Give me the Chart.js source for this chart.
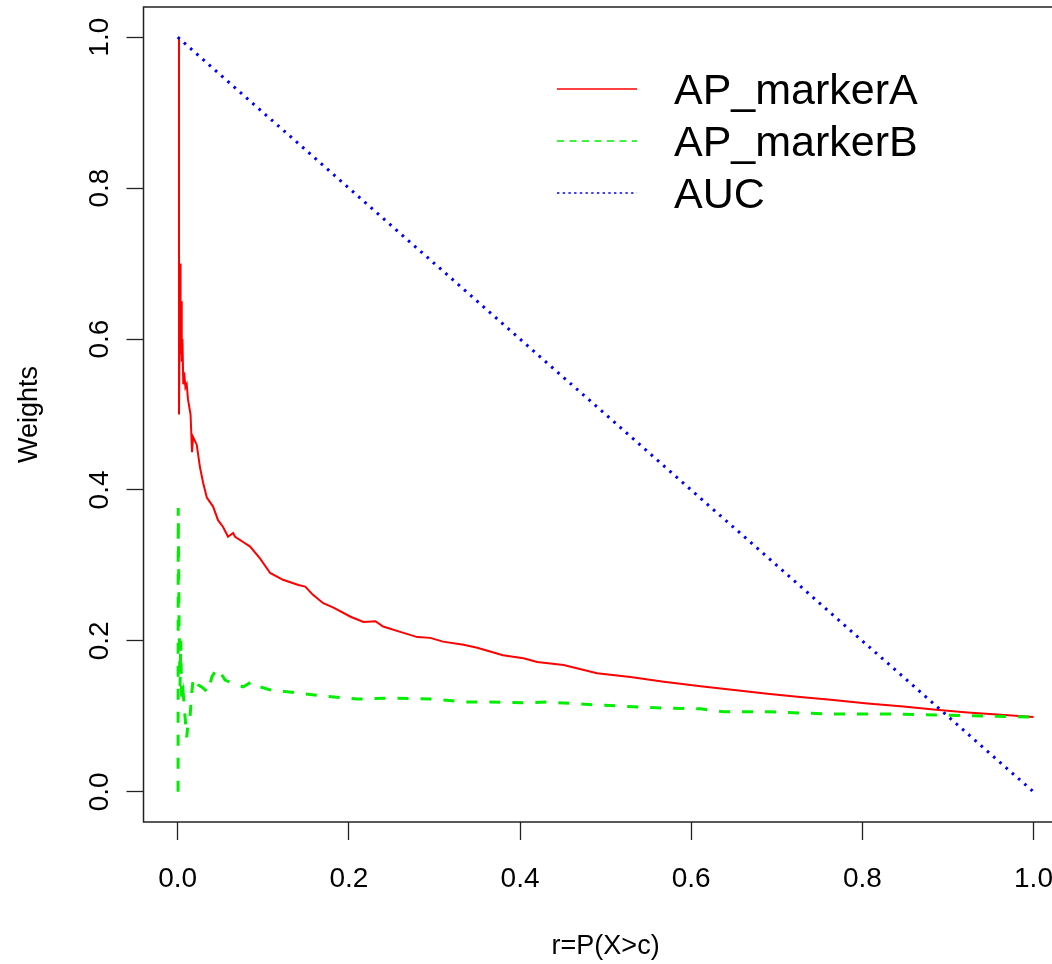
<!DOCTYPE html>
<html lang="en">
<head>
    <meta charset="UTF-8">
    <title>Weights</title>
    <script src="https://cdn.jsdelivr.net/npm/chart.js"></script>
    <style>
        html, body { margin: 0; padding: 0; overflow: hidden; background: #fff; }
        canvas { display: block; }
    </style>
</head>
<body>

<canvas id="mychart" width="1075" height="964"></canvas>

<script>
    const seriesNames = ['AP_markerA', 'AP_markerB', 'AUC'];

    const xTickValues = [0, 0.2, 0.4, 0.6, 0.8, 1.0];
    const xTickLabels = ['0.0', '0.2', '0.4', '0.6', '0.8', '1.0'];
    const yTickValues = [0, 0.2, 0.4, 0.6, 0.8, 1.0];
    const yTickLabels = ['0.0', '0.2', '0.4', '0.6', '0.8', '1.0'];

    // AP_markerA (red, solid)
    const markerAx = [0.0015, 0.0015, 0.0027, 0.0033, 0.0040, 0.0047, 0.0055, 0.0065, 0.0075, 0.0090,
        0.0105, 0.0120, 0.0150, 0.0167, 0.0180, 0.0222, 0.026, 0.0296, 0.034, 0.0413,
        0.0471, 0.053, 0.0588, 0.0647, 0.067, 0.0764, 0.0846, 0.0963, 0.108, 0.123,
        0.141, 0.149, 0.158, 0.170, 0.182, 0.202, 0.217, 0.231, 0.240, 0.260,
        0.280, 0.295, 0.310, 0.334, 0.350, 0.365, 0.380, 0.404, 0.420, 0.451,
        0.490, 0.529, 0.568, 0.611, 0.658, 0.689, 0.724, 0.763, 0.806, 0.848,
        0.883, 0.923, 0.962, 1.0];
    const markerAy = [1.0, 0.50, 0.70, 0.58, 0.65, 0.57, 0.60, 0.54, 0.556, 0.536,
        0.54, 0.52, 0.50, 0.45, 0.47, 0.46, 0.43, 0.41, 0.39, 0.378,
        0.36, 0.351, 0.338, 0.343, 0.338, 0.331, 0.325, 0.309, 0.29, 0.281,
        0.274, 0.272, 0.261, 0.250, 0.244, 0.232, 0.225, 0.226, 0.219, 0.212,
        0.205, 0.204, 0.199, 0.195, 0.191, 0.186, 0.181, 0.177, 0.172, 0.168,
        0.157, 0.152, 0.146, 0.140, 0.134, 0.130, 0.126, 0.122, 0.117, 0.113,
        0.109, 0.105, 0.102, 0.099];

    // AP_markerB (green, dashed)
    const markerBx = [0.0004, 0.0006, 0.0015, 0.0027, 0.0035, 0.0047, 0.0065, 0.0085, 0.0105, 0.012,
        0.0144, 0.0164, 0.0179, 0.020, 0.0237, 0.028, 0.032, 0.0354, 0.0398, 0.0456,
        0.0495, 0.0553, 0.0647, 0.0764, 0.0869, 0.0963, 0.111, 0.125, 0.140, 0.170,
        0.210, 0.248, 0.299, 0.334, 0.365, 0.404, 0.432, 0.490, 0.568, 0.611,
        0.638, 0.689, 0.766, 0.845, 0.923, 1.0];
    const markerBy = [0.0, 0.376, 0.23, 0.14, 0.20, 0.118, 0.13, 0.10, 0.072, 0.091,
        0.10, 0.131, 0.148, 0.151, 0.142, 0.139, 0.135, 0.132, 0.152, 0.163,
        0.159, 0.148, 0.144, 0.139, 0.146, 0.139, 0.134, 0.133, 0.131, 0.127,
        0.123, 0.124, 0.123, 0.119, 0.119, 0.118, 0.119, 0.115, 0.111, 0.110,
        0.106, 0.106, 0.103, 0.103, 0.101, 0.099];

    // AUC (blue, dotted)
    const aucX = [0, 1];
    const aucY = [1, 0];

    const FONT = '"Liberation Sans", Arial, Helvetica, sans-serif';

    function toPoints(xs, ys) {
        return xs.map((x, i) => ({x: x, y: ys[i]}));
    }

    const lineStyles = [
        {color: '#ff0000', width: 2, dash: [], legendWidth: 1.4, legendDash: []},
        {color: '#00ee00', width: 3, dash: [11, 12], legendWidth: 1.4, legendDash: [7, 5.5]},
        {color: '#0000ff', width: 3, dash: [2.6, 5.7], legendWidth: 1.5, legendDash: [2.4, 3.3]}
    ];

    // box, rotated y labels, legend
    const overlay = {
        id: 'overlay',
        afterDraw(chart) {
            const ctx = chart.ctx;
            const a = chart.chartArea;
            const yScale = chart.scales.y;
            ctx.save();
            ctx.strokeStyle = '#222';
            ctx.lineWidth = 1.5;
            ctx.strokeRect(a.left, a.top, a.right - a.left, a.bottom - a.top);

            ctx.fillStyle = '#000';
            ctx.font = '28px ' + FONT;
            ctx.textAlign = 'center';
            ctx.textBaseline = 'alphabetic';
            yTickValues.forEach((v, i) => {
                ctx.save();
                ctx.translate(a.left - 36, yScale.getPixelForValue(v));
                ctx.rotate(-Math.PI / 2);
                ctx.fillText(yTickLabels[i], 0, 0);
                ctx.restore();
            });

            ctx.font = '43px ' + FONT;
            ctx.textAlign = 'left';
            seriesNames.forEach((name, i) => {
                const st = lineStyles[i];
                const ly = 89 + i * 52;
                ctx.beginPath();
                ctx.strokeStyle = st.color;
                ctx.lineWidth = st.legendWidth;
                ctx.setLineDash(st.legendDash);
                ctx.moveTo(557, ly);
                ctx.lineTo(637, ly);
                ctx.stroke();
                ctx.setLineDash([]);
                ctx.fillStyle = '#000';
                ctx.fillText(name, 674, ly + 15);
            });
            ctx.restore();
        }
    };

    const series = [
        toPoints(markerAx, markerAy),
        toPoints(markerBx, markerBy),
        toPoints(aucX, aucY)
    ];

    const setting = {
        type: 'scatter',
        data: {
            datasets: seriesNames.map((name, i) => ({
                label: name,
                data: series[i],
                showLine: true,
                borderColor: lineStyles[i].color,
                borderWidth: lineStyles[i].width,
                borderDash: lineStyles[i].dash,
                borderCapStyle: 'butt',
                pointRadius: 0,
                tension: 0,
                order: 2 - i
            }))
        },
        options: {
            responsive: false,
            animation: false,
            layout: {padding: {left: 0, right: 1, top: 7, bottom: 0}},
            plugins: {
                legend: {display: false},
                tooltip: {enabled: false}
            },
            scales: {
                x: {
                    type: 'linear',
                    min: -0.04,
                    max: 1.04,
                    afterBuildTicks: (s) => { s.ticks = xTickValues.map(v => ({value: v})); },
                    ticks: {
                        callback: (v, i) => xTickLabels[i],
                        font: {family: FONT, size: 28},
                        color: '#000',
                        padding: 22,
                        maxRotation: 0,
                        autoSkip: false
                    },
                    grid: {drawOnChartArea: false, drawTicks: true, tickLength: 18, tickColor: '#222', tickWidth: 1.3},
                    border: {display: false},
                    title: {
                        display: true,
                        text: 'r=P(X>c)',
                        font: {family: FONT, size: 27},
                        color: '#000',
                        padding: {top: 13, bottom: 1}
                    }
                },
                y: {
                    type: 'linear',
                    min: -0.04,
                    max: 1.04,
                    afterBuildTicks: (s) => { s.ticks = yTickValues.map(v => ({value: v})); },
                    afterFit: (s) => { s.width = 143.5; },
                    ticks: {display: false},
                    grid: {drawOnChartArea: false, drawTicks: true, tickLength: 17, tickColor: '#222', tickWidth: 1.3},
                    border: {display: false},
                    title: {
                        display: true,
                        text: 'Weights',
                        font: {family: FONT, size: 27},
                        color: '#000',
                        padding: {top: 13, bottom: 0}
                    }
                }
            }
        },
        plugins: [overlay]
    };

    new Chart(document.getElementById('mychart'), setting);
</script>
</body>
</html>
